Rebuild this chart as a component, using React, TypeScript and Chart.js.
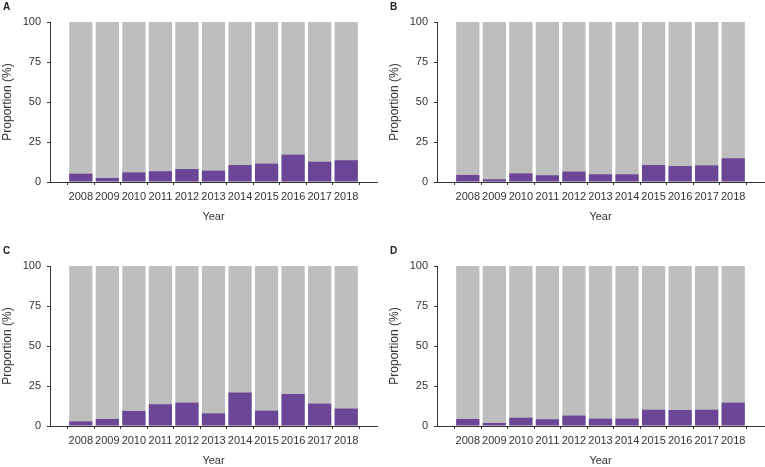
import React, { useEffect, useRef } from "react";
import { Chart, registerables } from "chart.js";

Chart.register(...registerables);

const years = ["2008", "2009", "2010", "2011", "2012", "2013", "2014", "2015", "2016", "2017", "2018"];
const panelA = [5.2, 2.5, 6.0, 6.7, 8.1, 7.1, 10.6, 11.5, 17.1, 12.7, 13.6];
const panelB = [4.4, 1.7, 5.4, 4.2, 6.5, 4.8, 4.8, 10.6, 10.0, 10.4, 14.8];
const panelC = [2.9, 4.4, 9.4, 13.6, 14.6, 7.9, 20.9, 9.6, 20.0, 14.0, 10.9];
const panelD = [4.4, 1.9, 5.2, 4.2, 6.5, 4.6, 4.6, 10.2, 10.0, 10.2, 14.6];
const totals = [100, 100, 100, 100, 100, 100, 100, 100, 100, 100, 100];
const yTicks = [0, 25, 50, 75, 100];

const PURPLE = "#6B4697";
const GRAY = "#BEBEBE";
const AXIS = "#333333";
const TEXT = "#333333";
const FAMILY = "'Liberation Sans', Arial, sans-serif";

type PanelProps = {
  label: string;
  values: number[];
  left: number;
  top: number;
  width: number;
  height: number;
  padRight: number;
};

function Panel({ label, values, left, top, width, height, padRight }: PanelProps) {
  const ref = useRef<HTMLCanvasElement>(null);

  useEffect(() => {
    if (!ref.current) return;
    const chart = new Chart(ref.current, {
      type: "bar",
      data: {
        datasets: [
          {
            label: "Proportion",
            data: values.map((v, i) => ({ x: i, y: v })),
            backgroundColor: PURPLE,
            order: 0,
            grouped: false,
            barPercentage: 0.875,
            categoryPercentage: 1,
          } as any,
          {
            label: "Total",
            data: totals.map((v, i) => ({ x: i, y: v })),
            backgroundColor: GRAY,
            order: 1,
            grouped: false,
            barPercentage: 0.875,
            categoryPercentage: 1,
          } as any,
        ],
      },
      options: {
        animation: false,
        responsive: false,
        devicePixelRatio: 1,
        layout: { padding: { top: 22, right: padRight, left: 0, bottom: 0 } },
        plugins: { legend: { display: false }, tooltip: { enabled: false } },
        scales: {
          x: {
            type: "linear",
            min: -0.6,
            max: 10.6,
            afterBuildTicks: (s: any) => {
              s.ticks = years.map((_, i) => ({ value: i }));
            },
            afterFit: (s: any) => {
              s.height = 44;
            },
            ticks: {
              callback: (_v: any, i: number) => years[i],
              autoSkip: false,
              maxRotation: 0,
              padding: 5,
              color: TEXT,
              font: { family: FAMILY, size: 11 },
            },
            grid: { drawOnChartArea: false, drawTicks: true, tickLength: 3, color: AXIS },
            border: { display: true, color: AXIS, width: 1 },
            title: {
              display: true,
              text: "Year",
              color: TEXT,
              font: { family: FAMILY, size: 11 },
              padding: { top: 0, bottom: 2 },
            },
          },
          y: {
            min: 0,
            max: 100,
            afterBuildTicks: (s: any) => {
              s.ticks = yTicks.map((v) => ({ value: v }));
            },
            afterFit: (s: any) => {
              s.width = 50;
            },
            ticks: {
              padding: 6,
              color: TEXT,
              font: { family: FAMILY, size: 11 },
            },
            grid: { drawOnChartArea: false, drawTicks: true, tickLength: 3, color: AXIS },
            border: { display: true, color: AXIS, width: 1 },
            title: {
              display: true,
              text: "Proportion (%)",
              color: TEXT,
              font: { family: FAMILY, size: 12 },
              padding: { top: 0, bottom: 0 },
            },
          },
        },
      } as any,
    });
    return () => chart.destroy();
  }, [values, padRight]);

  return (
    <div style={{ position: "absolute", left, top, width, height }}>
      <canvas ref={ref} width={width} height={height} style={{ display: "block" }} />
      <span
        style={{
          position: "absolute",
          left: 3,
          top: 2,
          fontFamily: FAMILY,
          fontWeight: "bold",
          fontSize: 10,
          lineHeight: "10px",
          color: "#222",
        }}
      >
        {label}
      </span>
    </div>
  );
}

export default function App() {
  return (
    <div
      style={{
        position: "absolute",
        left: 0,
        top: 0,
        width: 765,
        height: 467,
        overflow: "hidden",
        background: "#fff",
      }}
    >
      <Panel label="A" values={panelA} left={0} top={0} width={380} height={226} padRight={3} />
      <Panel label="B" values={panelB} left={387} top={0} width={378} height={226} padRight={1} />
      <Panel label="C" values={panelC} left={0} top={244} width={380} height={226} padRight={3} />
      <Panel label="D" values={panelD} left={387} top={244} width={378} height={226} padRight={1} />
    </div>
  );
}
